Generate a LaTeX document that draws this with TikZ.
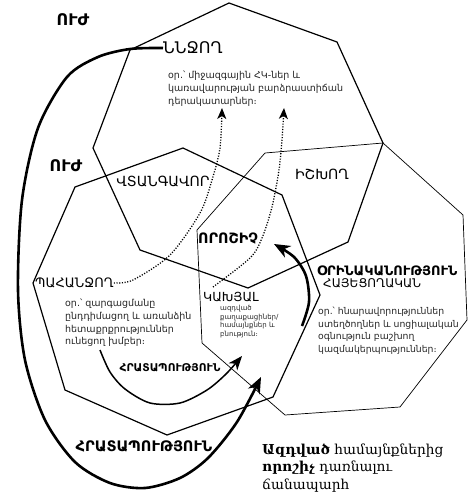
\documentclass[tikz,border=0pt]{standalone}
\usepackage{fontspec}
\setmainfont{DejaVu Sans}
\newfontfamily\noteserif{DejaVu Serif}
\usetikzlibrary{arrows.meta,positioning,calc}
\tikzset{
  octa/.style={line width=1.2pt,line join=miter},
  octathin/.style={line width=0.7pt,line join=miter},
  bigarc/.style={line width=2.6pt,-{Stealth[length=16pt,width=13pt,inset=5pt]}},
  midarc/.style={line width=1.5pt,-{Stealth[length=14pt,width=11pt,inset=4pt]}},
  dotarc/.style={line width=1.3pt,dash pattern=on 1.1pt off 1.6pt,-{Stealth[length=11pt,width=9pt,inset=3pt]}},
  lbl/.style={inner sep=0pt,font=\fontsize{14}{16}\selectfont},
  lblb/.style={inner sep=0pt,font=\fontsize{16}{18}\selectfont\bfseries},
  ex/.style={inner sep=0pt,align=left,text=black!85,font=\fontsize{9.5}{13}\selectfont},
}
\begin{document}
\begin{tikzpicture}[x=1pt,y=-1pt]
\useasboundingbox (0,0) rectangle (468,500);
% three stakeholder attributes
\draw[octa] (229,3) -- (337,42) -- (383,143) -- (348,242) -- (248,288) -- (140,250) -- (93,148) -- (130,50) -- cycle;
\draw[octa] (183,148) -- (282,195) -- (320,295) -- (273,397) -- (167,435) -- (65,390) -- (33,283) -- (75,187) -- cycle;
\draw[octathin] (265,153) -- (383,143) -- (463,215) -- (467,320) -- (400,407) -- (285,415) -- (202,343) -- (197,230) -- cycle;
% labels
\node[lblb] (uzh1) at (73,20) {ՈՒԺ};
\node[lblb] (uzh2) at (66,166) {ՈՒԺ};
\node[lbl,anchor=west,font=\fontsize{16}{18}\selectfont] (nnjogh) at (163,48) {ՆՆՋՈՂ};
\node[ex,anchor=north west] (nnjoghex) at (168,71) {օր.՝ միջազգային ՀԿ-ներ և\\կառավարության բարձրաստիճան\\դերակատարներ։};
\node[lbl] (ishkhogh) at (322,174) {ԻՇԽՈՂ};
\node[lbl] (vtangavor) at (163,182) {ՎՏԱՆԳԱՎՈՐ};
\node[lblb,anchor=west,font=\fontsize{14.3}{17}\selectfont\bfseries] (voroshich) at (198,239) {ՈՐՈՇԻՉ};
\node[lbl,anchor=west,font=\fontsize{13}{15}\selectfont\bfseries] (orinak) at (317,271) {ՕՐԻՆԱԿԱՆՈՒԹՅՈՒՆ};
\node[lbl,anchor=west,font=\fontsize{12}{14}\selectfont] (hayets) at (323,283) {ՀԱՅԵՑՈՂԱԿԱՆ};
\node[ex,anchor=north west,font=\fontsize{9.3}{12.5}\selectfont] (orinakex) at (318,307) {օր.՝ հնարավորություններ\\ստեղծողներ և սոցիալական\\օգնություն բաշխող\\կազմակերպություններ։};
\node[lbl,anchor=west,font=\fontsize{13}{15}\selectfont] (pahanjogh) at (35,283) {ՊԱՀԱՆՋՈՂ};
\node[ex,anchor=north west,font=\fontsize{9.5}{12.7}\selectfont] (pahanjoghex) at (65,299) {օր.՝ զարգացմանը\\ընդդիմացող և առանձին\\հետաքրքրություններ\\ունեցող խմբեր։};
\node[lbl,anchor=west,font=\fontsize{12.5}{14}\selectfont] (kakhyal) at (203,297) {ԿԱԽՅԱԼ};
\node[ex,anchor=north west,font=\fontsize{7}{8.6}\selectfont] (kakhyalex) at (220,305) {ազդված\\քաղաքացիներ/\\համայնքներ և\\բնություն։};
\node[lbl,font=\fontsize{10.7}{12}\selectfont\bfseries] (hratap1) at (170,368) {ՀՐԱՏԱՊՈՒԹՅՈՒՆ};
\node[lblb,font=\fontsize{14.5}{17}\selectfont\bfseries] (hratap2) at (144,446) {ՀՐԱՏԱՊՈՒԹՅՈՒՆ};
\node[inner sep=0pt,anchor=north west,align=left,font=\noteserif\fontsize{13.7}{17.5}\selectfont] (note) at (262,443) {\textbf{Ազդված} համայնքներից\\\textbf{որոշիչ} դառնալու\\ճանապարհ};
% arrows
\coordinate (tipA) at (222,108); \coordinate (tipB) at (284,108);
\coordinate (tipC) at (242,356); \coordinate (tipD) at (261,377); \coordinate (tipE) at (274,244);
\draw[dotarc] plot[smooth] coordinates {(pahanjogh.east) (133,280) (170,255) (200,213) (212,180) (220,148) (tipA)};
\draw[dotarc] plot[smooth] coordinates {(213,287) (250,258) (262,238) (272,207) (279,170) (282,140) (tipB)};
\draw[midarc] plot[smooth] coordinates {(100,350) (110,372) (125,389) (150,403) (180,403) (207,390) (226,374) (tipC)};
\draw[bigarc] plot[smooth] coordinates {(nnjogh.west) (130,49) (98,57) (67,77) (38,128) (22,200) (18,290) (25,360) (45,420) (75,462) (110,483) (145,488) (180,478) (208,458) (237,422) (tipD)};
\draw[bigarc] plot[smooth] coordinates {(302,326) (309,302) (306,276) (294,257) (tipE)};
\end{tikzpicture}
\end{document}
